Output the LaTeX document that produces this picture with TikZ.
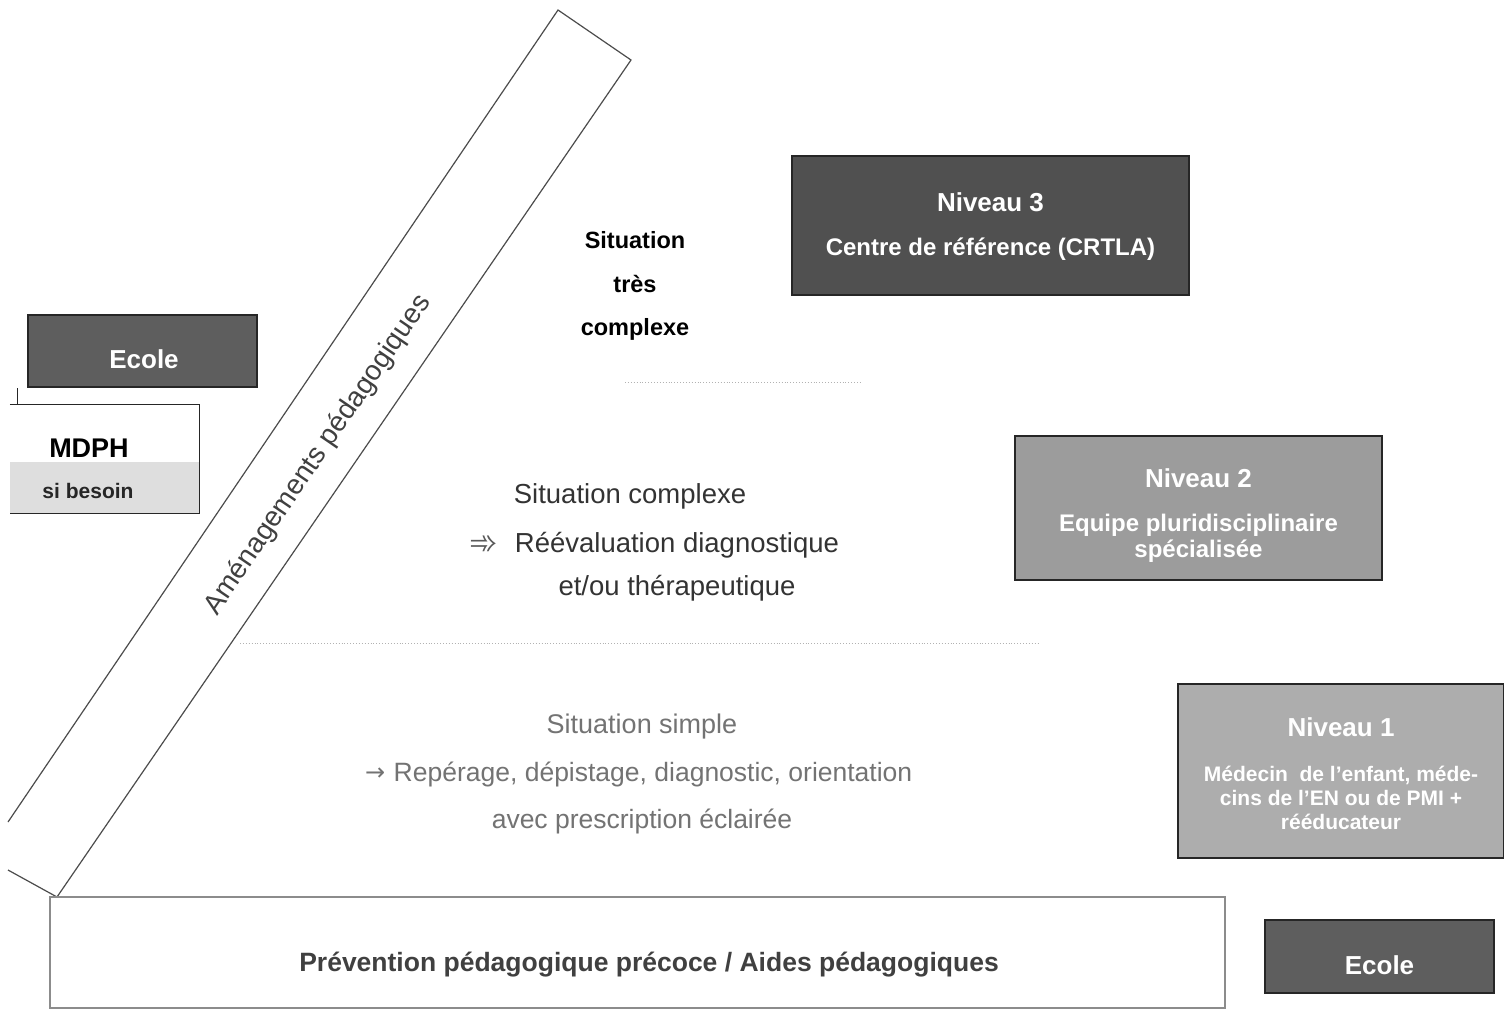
\documentclass[tikz,border=0pt]{standalone}
\usepackage{fontspec}
\setmainfont{Liberation Sans}
\newfontfamily\symfont{DejaVu Sans}
\definecolor{darkbox}{HTML}{505050}
\definecolor{ecolebox}{HTML}{5E5E5E}
\definecolor{midbox}{HTML}{9C9C9C}
\definecolor{lightbox}{HTML}{ADADAD}
\begin{document}
\begin{tikzpicture}[x=1pt,y=-1pt,
  levelbox/.style={draw=black!85, line width=1.3pt, inner sep=0pt},
  wtext/.style={text=white, font=\bfseries\fontsize{24}{44}\selectfont, align=center, inner sep=0pt},
  plain/.style={inner sep=0pt, align=center},
  bandline/.style={draw=black!70, line width=1.2pt, line join=miter},
  sepline/.style={draw=black!30, dotted, line width=0.9pt}]
\useasboundingbox (0,0) rectangle (1504,1010);
\fill[white] (0,0) rectangle (1504,1010);

% slanted band
\draw[bandline] (8,822) -- (558,10) -- (631,60) -- (57,897) -- (8,870);
\node[plain, rotate=55.7, text=black!75, font=\fontsize{28}{32}\selectfont] (band) at (318,455) {Aménagements pédagogiques};

% bottom rectangle
\node[draw=black!45, line width=1.2pt, minimum width=1175pt, minimum height=111pt, inner sep=0pt] (prev) at (637.5,952.5) {};
\node[plain, text=black!75, font=\bfseries\fontsize{26.5}{30}\selectfont] (prevtxt) at (649,965) {Prévention pédagogique précoce / Aides pédagogiques};

% Ecole bottom right
\node[levelbox, fill=ecolebox, minimum width=229pt, minimum height=73pt] (ecoleR) at (1379.5,956.5) {};
\node[wtext, font=\bfseries\fontsize{26}{30}\selectfont] (ecoleRt) at (1379.5,965) {Ecole};

% Niveau 3
\node[levelbox, fill=darkbox, minimum width=397pt, minimum height=139pt] (n3) at (990.5,225.5) {};
\node[wtext] (n3t) at ([yshift=-1pt]n3.center) {{\fontsize{26}{44}\selectfont Niveau 3}\\Centre de référence (CRTLA)};

% Niveau 2
\node[levelbox, fill=midbox, minimum width=367pt, minimum height=144pt] (n2) at (1198.5,508) {};
\node[wtext, font=\bfseries\fontsize{24}{26}\selectfont] (n2t) at ([yshift=-8pt]n2.center) {{\fontsize{26}{26}\selectfont Niveau 2}\\[18pt]Equipe pluridisciplinaire\\spécialisée};

% Niveau 1
\node[levelbox, fill=lightbox, minimum width=326pt, minimum height=174pt] (n1) at (1341,771) {};
\node[wtext, font=\bfseries\fontsize{21}{24}\selectfont] (n1t) at ([yshift=-3pt]n1.center) {{\fontsize{26}{24}\selectfont Niveau 1}\\[21pt]Médecin~ de l'enfant, méde-\\cins de l'EN ou de PMI +\\rééducateur};

% Ecole left
\node[levelbox, fill=ecolebox, minimum width=229pt, minimum height=72pt] (ecoleL) at (142.5,351) {};
\node[wtext, font=\bfseries\fontsize{26}{30}\selectfont] (ecoleLt) at (144,359) {Ecole};

% MDPH box
\fill[black!13] (10,462) rectangle (199,513);
\node[inner sep=0pt, minimum width=189pt, minimum height=108pt] (mdph) at (104.5,459) {};
\draw[black!85, line width=1.3pt] (mdph.north west) -- (mdph.north east) -- (mdph.south east) -- (mdph.south west);
\node[plain, font=\bfseries\fontsize{27}{30}\selectfont] (mdpht) at (89,448) {MDPH};
\node[plain, font=\bfseries\fontsize{21}{24}\selectfont, text=black!85] (besoin) at (88,491) {si besoin};
\coordinate (c1) at (17,388);
\draw[black!85, line width=1pt] (c1) -- (c1 |- mdph.north);

% Situation texts
\node[plain, font=\bfseries\fontsize{23.5}{43.5}\selectfont] (s3) at (635,286) {Situation\\très\\complexe};
\draw[sepline] (625,382) -- (860,382);

\node[plain, text=black!80, font=\fontsize{27.5}{30}\selectfont] (sc1) at (630,496) {Situation complexe};
\node[plain, text=black!65, font=\symfont\fontsize{34}{34}\selectfont] (arr) at (484,545) {➾};
\node[plain, text=black!80, font=\fontsize{27.5}{30}\selectfont] (sc2) at (677,545) {Réévaluation diagnostique};
\node[plain, text=black!80, font=\fontsize{27.5}{30}\selectfont] (sc3) at (677,588) {et/ou thérapeutique};
\draw[sepline] (240,643) -- (1040,643);

\node[plain, text=black!55, font=\fontsize{27}{30}\selectfont] (ss1) at (642,727) {Situation simple};
\node[plain, text=black!55, font=\fontsize{26.5}{30}\selectfont] (ss2) at (653,774) {Repérage, dépistage, diagnostic, orientation};
\node[plain, text=black!55, font=\symfont\fontsize{24}{30}\selectfont, anchor=east] (ss2a) at ([xshift=-8pt]ss2.west) {→};
\node[plain, text=black!55, font=\fontsize{26.5}{30}\selectfont] (ss3) at (642,821) {avec prescription éclairée};
\end{tikzpicture}
\end{document}
